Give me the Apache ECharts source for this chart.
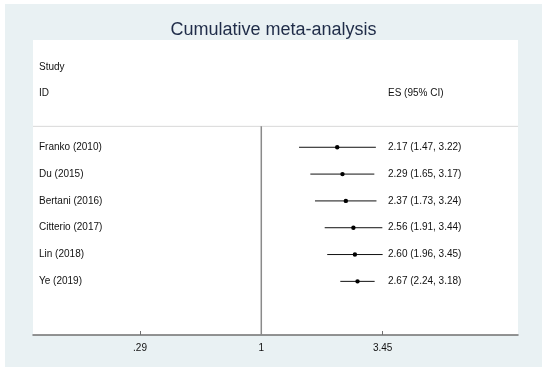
<!DOCTYPE html>
<html>
<head>
<meta charset="utf-8">
<script src="https://cdn.jsdelivr.net/npm/echarts@6/dist/echarts.min.js"></script>
<style>
html,body{margin:0;padding:0;background:#ffffff;width:550px;height:376px;overflow:hidden;}
#chart{position:absolute;left:5px;top:4px;width:537px;height:363px;}
</style>
</head>
<body>
<div id="chart"></div>
<script>
// ---- data ----
var studies = ['Franko (2010)', 'Du (2015)', 'Bertani (2016)', 'Citterio (2017)', 'Lin (2018)', 'Ye (2019)'];
var esValues = [2.17, 2.29, 2.37, 2.56, 2.60, 2.67];
var ciLower = [1.47, 1.65, 1.73, 1.91, 1.96, 2.24];
var ciUpper = [3.22, 3.17, 3.24, 3.44, 3.45, 3.18];
var tickValues = [0.29, 1, 3.45];
var tickLabels = ['.29', '1', '3.45'];
var titleText = 'Cumulative meta-analysis';
var headerStudy = 'Study';
var headerId = 'ID';
var headerEs = 'ES (95% CI)';

// ---- layout ----
var xMin = -2.33, xMax = 2.62;
var yMin = -4, yMax = 7;
var sepRow = -0.78;
var FONT = '"Liberation Sans", Arial, sans-serif';
var TXT = '#111111';

var rows = studies.map(function (s, i) {
  return [Math.log(ciLower[i]), Math.log(ciUpper[i]), Math.log(esValues[i]), i,
    esValues[i].toFixed(2) + ' (' + ciLower[i].toFixed(2) + ', ' + ciUpper[i].toFixed(2) + ')', s];
});

var chart = echarts.init(document.getElementById('chart'), null, {renderer: 'canvas'});

var option = {
  backgroundColor: '#e9f1f3',
  animation: false,
  title: {
    text: titleText,
    left: 'center',
    top: 12,
    textStyle: {fontFamily: FONT, fontSize: 18, fontWeight: 'normal', color: '#1f2c48'}
  },
  grid: {
    left: 28, right: 24, top: 36, bottom: 32,
    show: true, backgroundColor: '#ffffff', borderWidth: 0
  },
  xAxis: {
    type: 'value',
    min: xMin, max: xMax,
    splitLine: {show: false},
    axisLine: {show: true, onZero: false, lineStyle: {color: '#707070', width: 1.5}},
    axisTick: {show: true, inside: true, length: 4, lineStyle: {color: '#707070'},
      customValues: tickValues.map(function (v) { return Math.log(v); })},
    axisLabel: {
      show: true, color: TXT, fontFamily: FONT, fontSize: 10, margin: 8,
      customValues: tickValues.map(function (v) { return Math.log(v); }),
      formatter: function (val) {
        for (var i = 0; i < tickValues.length; i++) {
          if (Math.abs(Math.log(tickValues[i]) - val) < 1e-6) return tickLabels[i];
        }
        return '';
      }
    }
  },
  yAxis: {
    type: 'value', min: yMin, max: yMax, inverse: true, show: false
  },
  series: [
    {
      type: 'line', silent: true, symbol: 'none',
      lineStyle: {color: '#d9d9d9', width: 1},
      data: [[xMin, sepRow], [xMax, sepRow]], z: 1
    },
    {
      type: 'line', silent: true, symbol: 'none',
      lineStyle: {color: '#8a8a8a', width: 1.5},
      data: [[0, sepRow], [0, yMax]], z: 2
    },
    {
      type: 'custom', silent: true, z: 3,
      data: rows,
      encode: {x: [0, 1, 2], y: 3},
      renderItem: function (params, api) {
        var lo = api.coord([api.value(0), api.value(3)]);
        var hi = api.coord([api.value(1), api.value(3)]);
        var pt = api.coord([api.value(2), api.value(3)]);
        var leftX = api.coord([xMin, 0])[0];
        var r = rows[params.dataIndex];
        return {
          type: 'group',
          children: [
            {type: 'line', shape: {x1: lo[0], y1: lo[1], x2: hi[0], y2: hi[1]},
              style: {stroke: '#111', lineWidth: 1}},
            {type: 'circle', shape: {cx: pt[0], cy: pt[1], r: 2.2},
              style: {fill: '#000'}},
            {type: 'text', x: leftX + 6, y: pt[1],
              style: {text: r[5], font: '10px ' + FONT, fill: TXT, verticalAlign: 'middle', align: 'left'}},
            {type: 'text', x: leftX + 355, y: pt[1],
              style: {text: r[4], font: '10px ' + FONT, fill: TXT, verticalAlign: 'middle', align: 'left'}}
          ]
        };
      }
    },
    {
      type: 'custom', silent: true, z: 3,
      data: [[xMin, -3, 0], [xMin, -2, 1], [xMin, -2, 2]],
      encode: {x: 0, y: 1},
      renderItem: function (params, api) {
        var p = api.coord([api.value(0), api.value(1)]);
        var which = api.value(2);
        var txt = which === 0 ? headerStudy : (which === 1 ? headerId : headerEs);
        var off = which === 2 ? 355 : 6;
        return {type: 'text', x: p[0] + off, y: p[1],
          style: {text: txt, font: '10px ' + FONT, fill: TXT, verticalAlign: 'middle', align: 'left'}};
      }
    }
  ]
};
chart.setOption(option);
</script>
</body>
</html>
